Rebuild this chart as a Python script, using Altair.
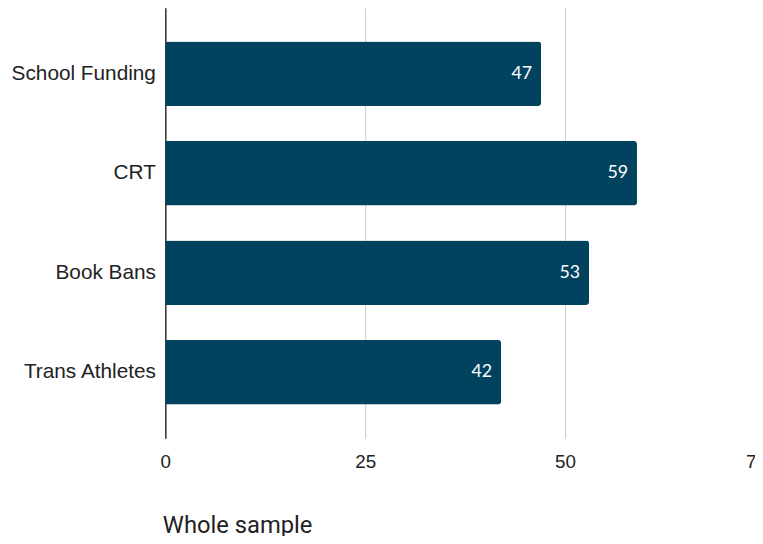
import altair as alt
import pandas as pd

categories = ["School Funding", "CRT", "Book Bans", "Trans Athletes"]
values = [47, 59, 53, 42]
x_ticks = [0, 25, 50, 75]

df = pd.DataFrame({"topic": categories, "value": values})

bar_color = "#01425f"

base = alt.Chart(df).encode(
    y=alt.Y(
        "topic:N",
        sort=categories,
        scale=alt.Scale(paddingInner=0.352, paddingOuter=0.338),
        axis=alt.Axis(
            title=None,
            domain=True,
            domainColor="#333333",
            domainWidth=1.5,
            ticks=False,
            labelFont="Liberation Sans",
            labelFontSize=21,
            labelColor="#222222",
            labelPadding=10,
        ),
    ),
    x=alt.X(
        "value:Q",
        scale=alt.Scale(domain=[0, 75], nice=False, zero=True),
        axis=alt.Axis(
            values=x_ticks,
            title="Whole sample",
            titleFont="Roboto",
            titleFontSize=24,
            titleFontWeight="normal",
            titleColor="#222222",
            titleAnchor="start",
            titleAlign="left",
            titleBaseline="alphabetic",
            titleX=-3,
            titleY=95,
            domain=False,
            ticks=False,
            grid=True,
            gridColor="#cccccc",
            gridWidth=1,
            labelFont="Liberation Sans",
            labelFontSize=19,
            labelColor="#222222",
            labelPadding=15,
            labelFlush=False,
            labelOverlap=False,
            labelOffset={"condition": {"test": "datum.value == 75", "value": -9}, "value": 0},
        ),
    ),
)

bars = base.mark_bar(color=bar_color, cornerRadiusTopRight=3, cornerRadiusBottomRight=3)

labels = base.mark_text(
    align="right", baseline="middle", dx=-9, color="white", font="Lato", fontSize=18
).encode(text=alt.Text("value:Q"))

chart = (
    (bars + labels)
    .properties(
        width=606,
        height=435,
        autosize=alt.AutoSizeParams(type="none"),
        padding={"left": 159, "top": -3, "right": -10, "bottom": 96},
    )
    .configure_view(stroke=None)
)

chart.save("out.html", embed_options={"renderer": "svg", "actions": False})
